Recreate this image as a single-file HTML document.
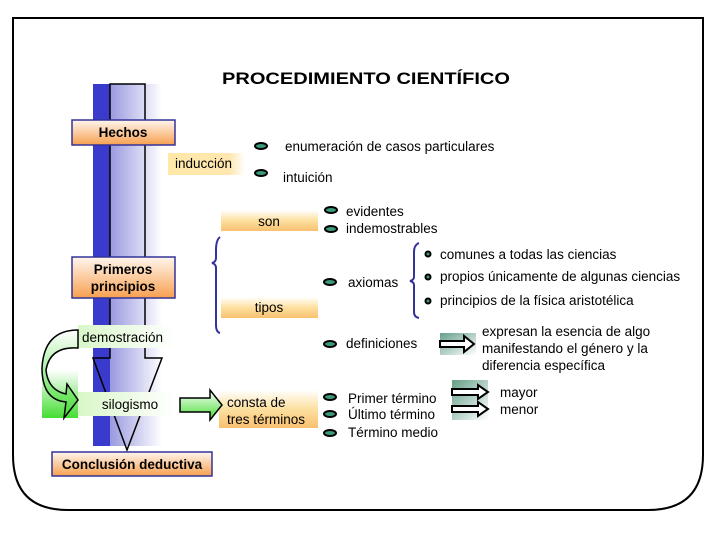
<!DOCTYPE html>
<html><head><meta charset="utf-8"><style>
body{margin:0;background:#fff}
svg{display:block}
text{font-family:"Liberation Sans",sans-serif;font-size:13.5px;fill:#000}
</style></head><body>
<svg width="720" height="540" viewBox="0 0 720 540" xmlns="http://www.w3.org/2000/svg">
<defs>
<linearGradient id="bl" x1="0" x2="1" y1="0" y2="0"><stop offset="0" stop-color="#9999e0"/><stop offset="1" stop-color="#ffffff"/></linearGradient>
<linearGradient id="or" x1="0" x2="0" y1="0" y2="1"><stop offset="0" stop-color="#fff6ee"/><stop offset="1" stop-color="#f7a050"/></linearGradient>
<linearGradient id="yo" x1="0" x2="1" y1="0" y2="0"><stop offset="0" stop-color="#ffe8a8"/><stop offset="0.8" stop-color="#ffe7b0"/><stop offset="1" stop-color="#ffffff"/></linearGradient>
<linearGradient id="yv" x1="0" x2="0" y1="0" y2="1"><stop offset="0" stop-color="#ffffff"/><stop offset="0.5" stop-color="#fde0a0"/><stop offset="1" stop-color="#f8c070"/></linearGradient>
<linearGradient id="gr" x1="0" x2="1" y1="0" y2="0"><stop offset="0" stop-color="#d8f7c8"/><stop offset="1" stop-color="#ffffff"/></linearGradient>
<linearGradient id="gv" x1="0" x2="0" y1="0" y2="1"><stop offset="0" stop-color="#ffffff"/><stop offset="1" stop-color="#44dd33"/></linearGradient>
<linearGradient id="tg" x1="0" x2="1" y1="0" y2="1"><stop offset="0" stop-color="#227755"/><stop offset="1" stop-color="#ffffff"/></linearGradient>
</defs>
<path d="M13 18 H703 V455 Q703 510 648 510 H68 Q13 510 13 455 Z" fill="none" stroke="#000" stroke-width="2"/>
<text x="222" y="84" textLength="288" lengthAdjust="spacingAndGlyphs" style="font-size:17px;font-weight:bold">PROCEDIMIENTO CIENTÍFICO</text>
<rect x="93" y="84" width="17" height="362" fill="#3a3acc"/>
<rect x="110" y="84" width="52" height="362" fill="url(#bl)"/>
<path d="M110 84 V358 H93 L127 450 L162 358 H145 V84 Z" fill="none" stroke="#000" stroke-width="1.5"/>
<rect x="72" y="120" width="103" height="25" fill="url(#or)" stroke="#333399" stroke-width="1.5"/>
<text x="123" y="137" text-anchor="middle" style="font-weight:bold">Hechos</text>
<rect x="72" y="257" width="103" height="41" fill="url(#or)" stroke="#333399" stroke-width="1.5"/>
<text x="123" y="274" text-anchor="middle" style="font-weight:bold">Primeros</text>
<text x="123" y="291" text-anchor="middle" style="font-weight:bold">principios</text>
<rect x="52" y="452" width="160" height="24" fill="url(#or)" stroke="#333399" stroke-width="1.5"/>
<text x="132" y="469" text-anchor="middle" style="font-weight:bold">Conclusión deductiva</text>
<rect x="168" y="153" width="77" height="22" fill="url(#yo)"/>
<text x="175" y="168">inducción</text>
<rect x="221" y="210" width="97" height="21" fill="url(#yv)"/>
<text x="269" y="226" text-anchor="middle">son</text>
<rect x="221" y="297" width="97" height="21" fill="url(#yv)"/>
<text x="269" y="312" text-anchor="middle">tipos</text>
<rect x="219" y="390" width="99" height="38" fill="url(#yv)"/>
<text x="227" y="407">consta de</text>
<text x="227" y="424">tres términos</text>
<rect x="78" y="325" width="97" height="23" fill="url(#gr)"/>
<text x="82" y="342">demostración</text>
<rect x="78" y="392" width="97" height="24" fill="url(#gr)"/>
<text x="130" y="409" text-anchor="middle">silogismo</text>
<rect x="42" y="370" width="36" height="48" fill="url(#gv)"/>
<path d="M78 330 Q44 330 42 368 Q42 400 66 402 L64 418 L78 400 L67 384 L66 394 Q48 390 46 370 Q50 346 78 348 Z" fill="url(#gv)" stroke="#000" stroke-width="1.5"/>
<path d="M180 398 H210 V390 L222 405 L210 420 V412 H180 Z" fill="url(#gv)" stroke="#000" stroke-width="1.5"/>
<path d="M220 237 Q216 240 216 250 V258 Q216 262 212 263 Q216 264 216 268 V325 Q216 332 220 333" fill="none" stroke="#333399" stroke-width="2"/>
<path d="M419 243 Q414 245 414 252 V277 Q414 280 410 281 Q414 282 414 285 V312 Q414 317 419 318" fill="none" stroke="#333399" stroke-width="2"/>
<g fill="#3a9a7a" stroke="#000" stroke-width="2">
<ellipse cx="261" cy="146" rx="6" ry="3"/>
<ellipse cx="261" cy="173" rx="6" ry="3"/>
<ellipse cx="331" cy="210" rx="6" ry="3"/>
<ellipse cx="331" cy="229" rx="6" ry="3"/>
<ellipse cx="330" cy="282" rx="6" ry="3"/>
<ellipse cx="330" cy="344" rx="6" ry="3"/>
<ellipse cx="330" cy="397" rx="6" ry="3"/>
<ellipse cx="330" cy="414" rx="6" ry="3"/>
<ellipse cx="330" cy="433" rx="6" ry="3"/>
<circle cx="428" cy="254" r="2.5"/>
<circle cx="428" cy="277" r="2.5"/>
<circle cx="428" cy="301" r="2.5"/>
</g>
<text x="285" y="151">enumeración de casos particulares</text>
<text x="283" y="182">intuición</text>
<text x="346" y="216">evidentes</text>
<text x="346" y="233">indemostrables</text>
<text x="348" y="287">axiomas</text>
<text x="440" y="259">comunes a todas las ciencias</text>
<text x="440" y="281">propios únicamente de algunas ciencias</text>
<text x="440" y="305">principios de la física aristotélica</text>
<text x="346" y="348">definiciones</text>
<text x="482" y="336">expresan la esencia de algo</text>
<text x="482" y="353">manifestando el género y la</text>
<text x="482" y="370">diferencia específica</text>
<text x="348" y="403">Primer término</text>
<text x="348" y="419">Último término</text>
<text x="348" y="437">Término medio</text>
<text x="500" y="397">mayor</text>
<text x="500" y="414">menor</text>
<rect x="440" y="333" width="36" height="22" fill="url(#tg)" opacity="0.7"/>
<path d="M440 341 H464 V336 L474 344 L464 352 V347 H440 Z" fill="#fff" stroke="#000" stroke-width="2"/>
<rect x="452" y="380" width="36" height="40" fill="url(#tg)" opacity="0.7"/>
<path d="M452 389 H478 V385 L488 392 L478 399 V395 H452 Z" fill="#fff" stroke="#000" stroke-width="2"/>
<path d="M452 406 H478 V402 L488 409 L478 416 V412 H452 Z" fill="#fff" stroke="#000" stroke-width="2"/>
</svg>
</body></html>
